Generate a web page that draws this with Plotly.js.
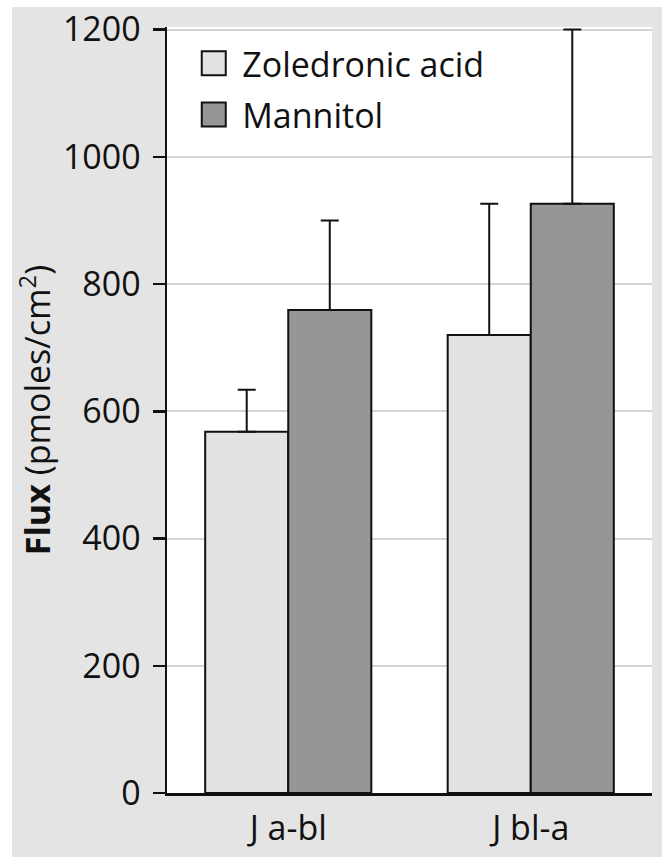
<!DOCTYPE html>
<html>
<head>
<meta charset="utf-8">
<script src="https://cdn.plot.ly/plotly-3.0.1.min.js"></script>
<style>
  html, body { margin: 0; padding: 0; background: #ffffff; }
  #chart { position: absolute; left: 0; top: 0; width: 662px; height: 857px; }
</style>
</head>
<body>
<div id="chart"></div>
<script>
const categories = ['J a-bl', 'J bl-a'];
const zoledronic = [568, 720];
const zoledronicErr = [66, 206];
const mannitol = [759, 926];
const mannitolErr = [141, 274];
const yTicks = [0, 200, 400, 600, 800, 1000, 1200];

const FONT = 'Open Sans, Liberation Sans, sans-serif';

const traces = [
  {
    type: 'bar', name: 'Zoledronic acid', x: categories, y: zoledronic,
    legendgroup: 'a',
    marker: { color: '#e2e2e2', line: { color: '#111111', width: 2 } },
    error_y: { type: 'data', symmetric: false, array: zoledronicErr, arrayminus: [0, 0],
               color: '#111111', thickness: 2, width: 9 },
    cliponaxis: false
  },
  {
    type: 'bar', name: 'Mannitol', x: categories, y: mannitol,
    legendgroup: 'b',
    marker: { color: '#969696', line: { color: '#111111', width: 2 } },
    error_y: { type: 'data', symmetric: false, array: mannitolErr, arrayminus: [0, 0],
               color: '#111111', thickness: 2, width: 9 },
    cliponaxis: false
  }
];

// white page border strips outside the grey chart panel (left 12px, top 7px)
const W = 662, H = 857, ML = 167, MR = 10, MT = 27, MB = 64;
const PW = W - ML - MR, PH = H - MT - MB;
const px2x = function (p) { return (p - ML) / PW; };
const py2y = function (p) { return 1 - (p - MT) / PH; };

const layout = {
  width: W, height: H,
  margin: { l: ML, r: MR, t: MT, b: MB, pad: 0 },
  paper_bgcolor: '#e4e4e4',
  plot_bgcolor: '#ffffff',
  font: { family: FONT, color: '#111111', size: 33 },
  barmode: 'group',
  bargap: 0.315,
  bargroupgap: 0,
  showlegend: true,
  legend: {
    x: 0.05, y: 0.99, xanchor: 'left', yanchor: 'top',
    bgcolor: 'rgba(0,0,0,0)', borderwidth: 0,
    font: { family: FONT, size: 34, color: '#111111' },
    tracegroupgap: 4, traceorder: 'grouped', itemwidth: 41
  },
  shapes: [
    { type: 'rect', xref: 'paper', yref: 'paper', layer: 'below',
      x0: px2x(-2), x1: px2x(12), y0: py2y(H + 2), y1: py2y(-2),
      fillcolor: '#ffffff', line: { width: 0 } },
    { type: 'rect', xref: 'paper', yref: 'paper', layer: 'below',
      x0: px2x(-2), x1: px2x(W + 2), y0: py2y(7), y1: py2y(-2),
      fillcolor: '#ffffff', line: { width: 0 } }
  ],
  xaxis: {
    type: 'category',
    showline: true, linecolor: '#111111', linewidth: 2.5,
    ticks: '', showgrid: false, zeroline: false,
    tickfont: { family: FONT, size: 34, color: '#111111' },
    ticklabelstandoff: 4,
    fixedrange: true
  },
  yaxis: {
    range: [0, 1204], tickvals: yTicks, ticktext: yTicks.map(String),
    showline: true, linecolor: '#111111', linewidth: 2.5,
    ticks: 'outside', ticklen: 12, tickwidth: 2.5, tickcolor: '#111111',
    showgrid: true, gridcolor: '#d4d4d4', gridwidth: 2,
    zeroline: false,
    tickfont: { family: FONT, size: 34, color: '#111111' },
    ticklabelstandoff: 5,
    ticklabeloverflow: 'allow',
    title: { text: '<b>Flux</b> (pmoles/cm<sup>2</sup>)', standoff: 2,
             font: { family: FONT, size: 34, color: '#111111' } },
    fixedrange: true
  }
};

Plotly.newPlot('chart', traces, layout, { displayModeBar: false, staticPlot: true }).then(function (gd) {
  gd.querySelectorAll('.legend .legendpoints path').forEach(function (p) {
    const t = p.getAttribute('transform') || '';
    p.setAttribute('transform', 'translate(-3,0) ' + t + ' scale(2)');
    p.style.vectorEffect = 'non-scaling-stroke';
    p.style.strokeWidth = '2px';
  });
});
</script>
</body>
</html>
